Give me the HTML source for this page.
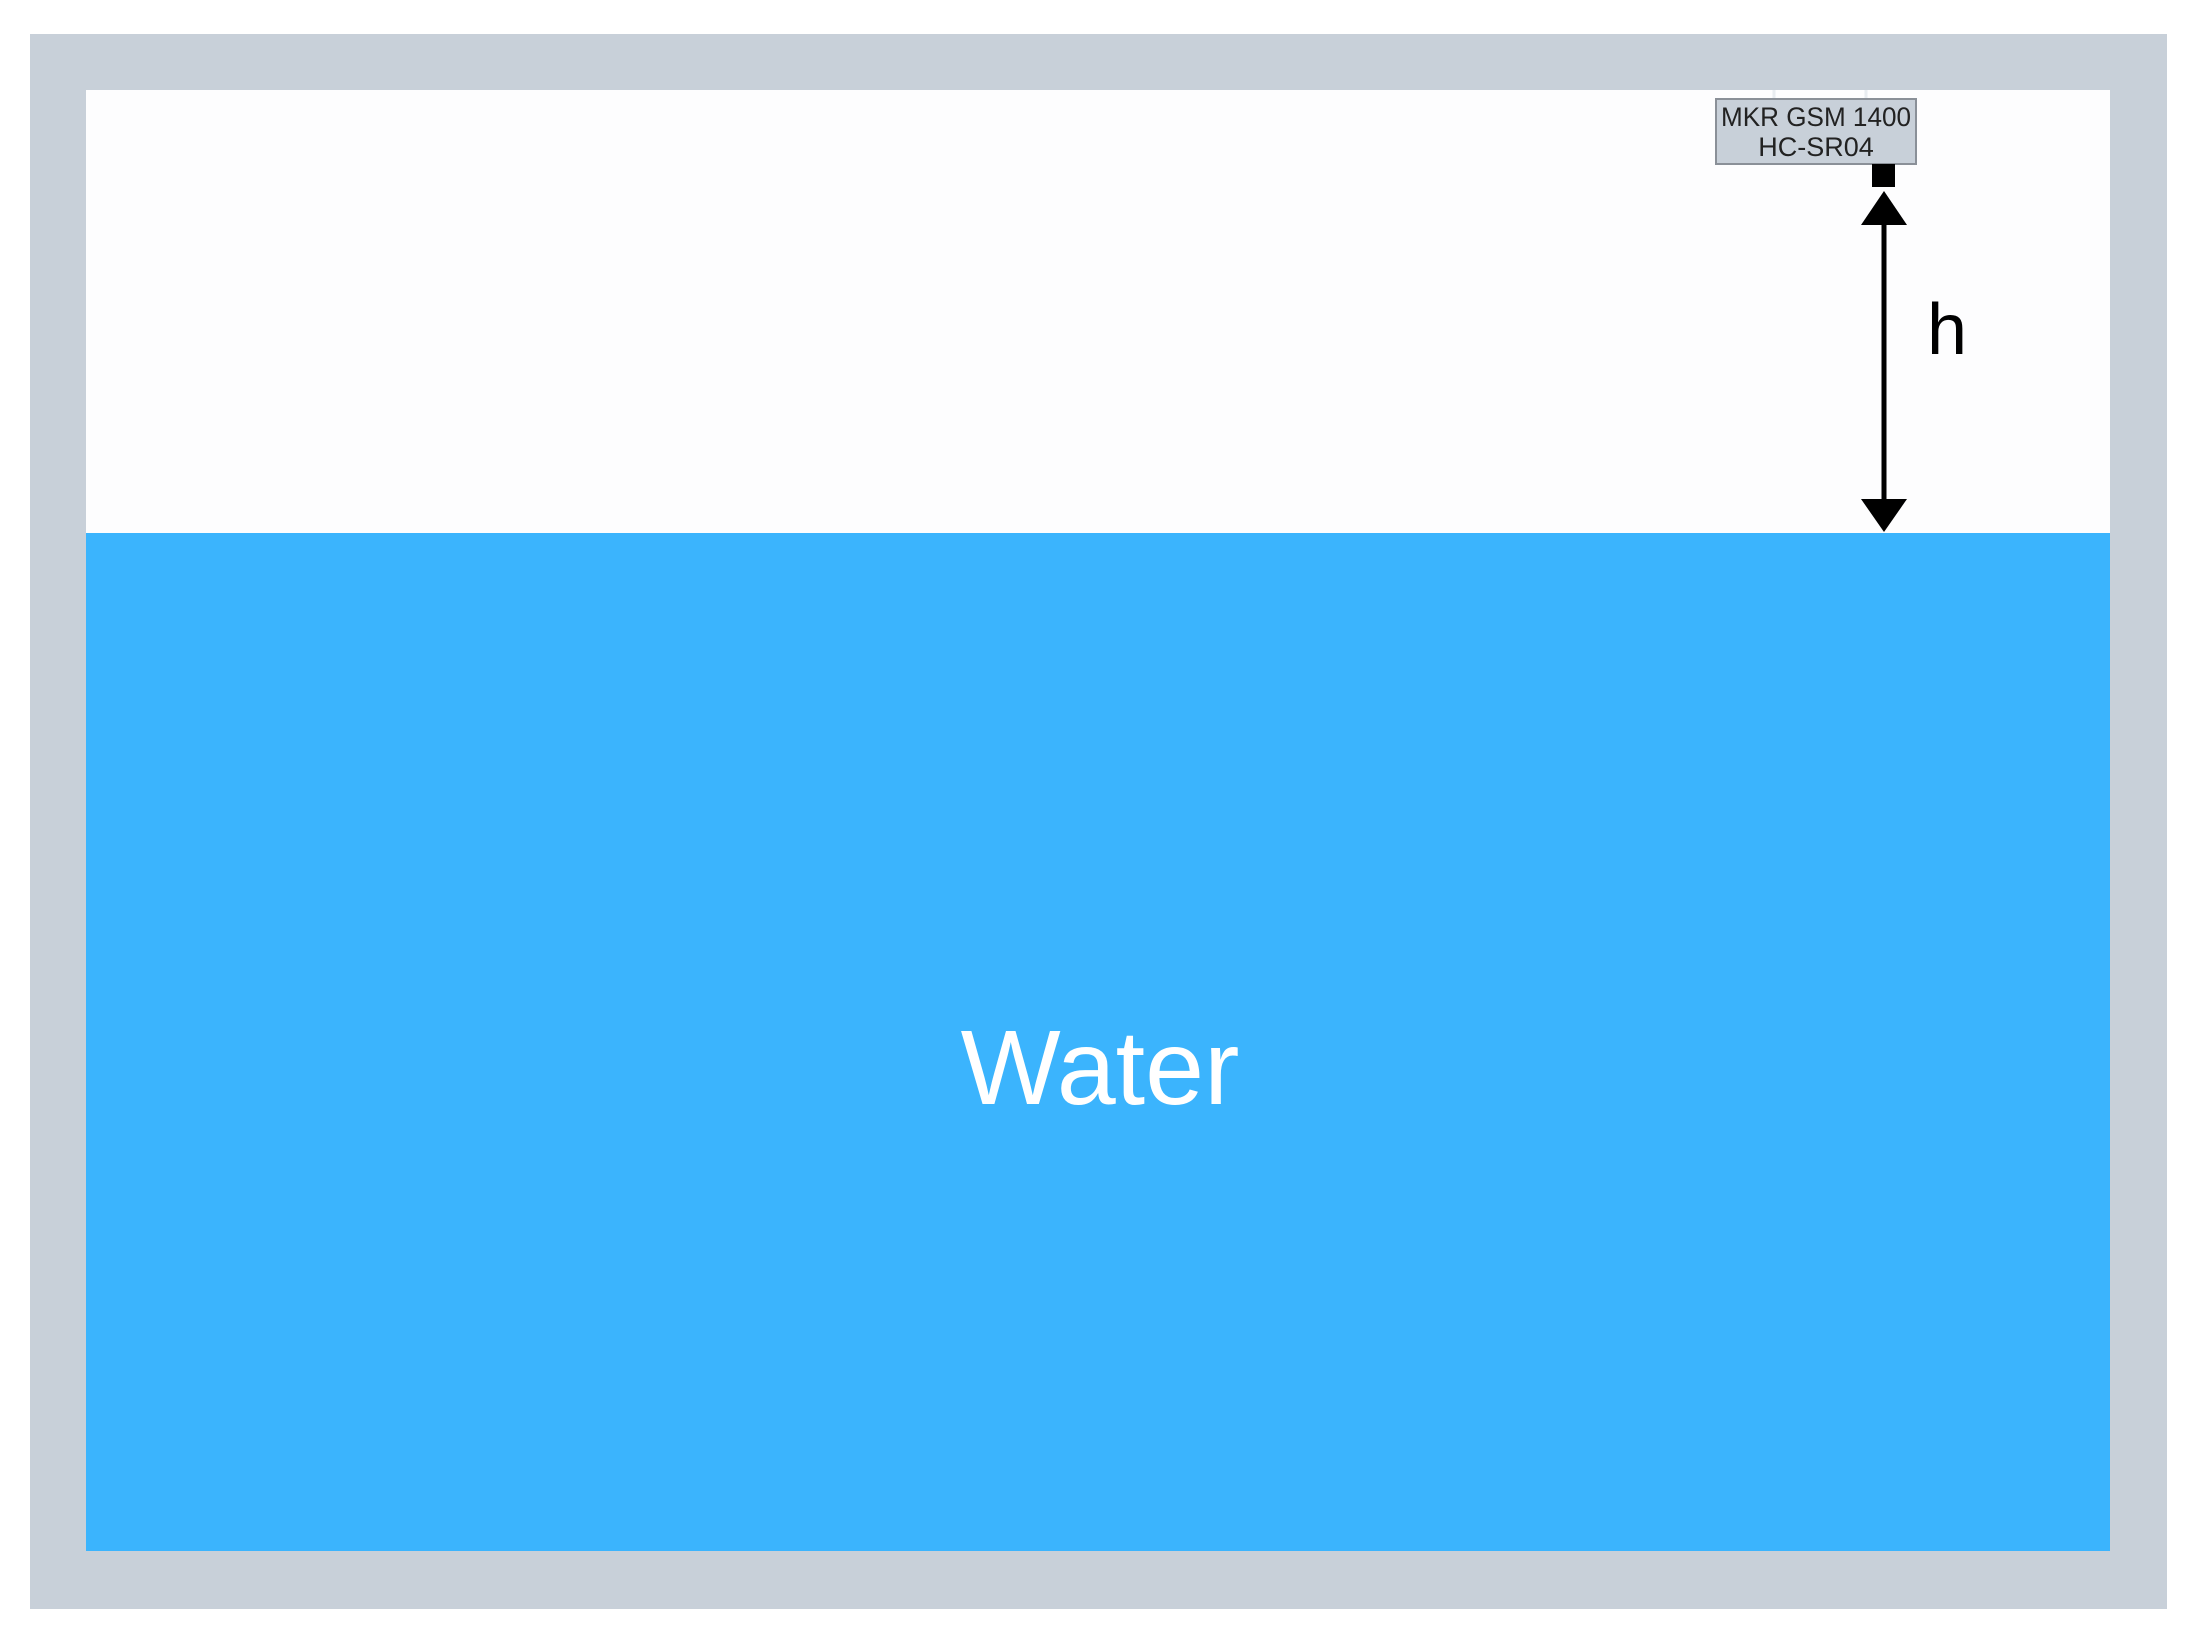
<!DOCTYPE html>
<html><head><style>
html,body{margin:0;padding:0;background:#fff;}
body{width:2194px;height:1637px;position:relative;overflow:hidden;font-family:"Liberation Sans",Arial,sans-serif;}
</style></head><body>
<svg width="2194" height="1637" viewBox="0 0 2194 1637" xmlns="http://www.w3.org/2000/svg" style="position:absolute;left:0;top:0">
<rect x="0" y="0" width="2194" height="1637" fill="#fff"/>
<rect x="30" y="34" width="2137" height="1575" fill="#c8d0d9"/>
<rect x="86" y="90" width="2024" height="1461" fill="#fdfdfe"/>
<rect x="86" y="533" width="2024" height="1018" fill="#3bb4fd"/>
<line x1="1774" y1="90" x2="1774" y2="99" stroke="#e8ecf0" stroke-width="3"/>
<line x1="1866" y1="90" x2="1866" y2="99" stroke="#e8ecf0" stroke-width="3"/>
<rect x="1716" y="99" width="200" height="65" fill="#c8d0d9" stroke="#8a9098" stroke-width="2"/>
<text x="1816" y="126" font-size="27" text-anchor="middle" fill="#222" font-family="Liberation Sans, Arial, sans-serif" textLength="190" lengthAdjust="spacingAndGlyphs">MKR GSM 1400</text>
<text x="1816" y="156" font-size="27" text-anchor="middle" fill="#222" font-family="Liberation Sans, Arial, sans-serif">HC-SR04</text>
<rect x="1872" y="164" width="23" height="23" fill="#000"/>
<line x1="1884" y1="215" x2="1884" y2="505" stroke="#000" stroke-width="5"/>
<polygon points="1884,191 1861,225 1907,225" fill="#000"/>
<polygon points="1861,499 1907,499 1884,532" fill="#000"/>
<text x="1927" y="354" font-size="72" fill="#000" font-family="Liberation Sans, Arial, sans-serif">h</text>
<text x="1100" y="1104" font-size="106" text-anchor="middle" fill="#fff" font-family="Liberation Sans, Arial, sans-serif">Water</text>
</svg>
</body></html>
